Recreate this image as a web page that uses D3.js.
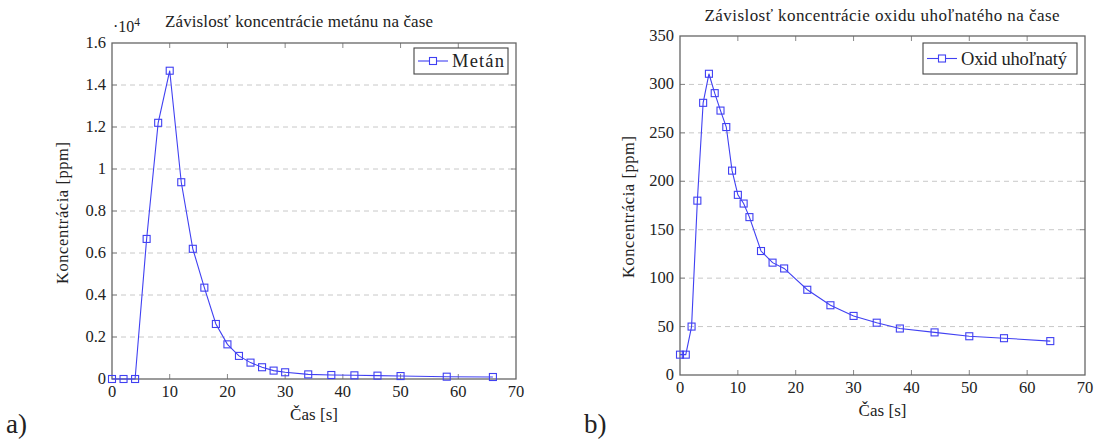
<!DOCTYPE html>
<html><head><meta charset="utf-8">
<script src="https://cdn.jsdelivr.net/npm/d3@7"></script>
<style>
body{margin:0;background:#fff;}
</style></head>
<body><svg id="c" width="1099" height="441" font-family="'Liberation Serif', 'DejaVu Serif', 'Times New Roman', Times, serif"></svg>
<script>
const methaneTime = [0,2,4,6,8,10,12,14,16,18,20,22,24,26,28,30,34,38,42,46,50,58,66];
const methaneConc = [0,0,0,6670,12200,14680,9370,6200,4350,2620,1650,1100,780,560,400,320,220,190,175,160,140,110,95];
const methaneYTicks = [0,2000,4000,6000,8000,10000,12000,14000,16000];
const methaneYLabels = ["0","0.2","0.4","0.6","0.8","1","1.2","1.4","1.6"];

const coTime = [0,1,2,3,4,5,6,7,8,9,10,11,12,14,16,18,22,26,30,34,38,44,50,56,64];
const coConc = [21,21,50,180,281,311,291,273,256,211,186,177,163,128,116,110,88,72,61,54,48,44,40,38,35];
const coYTicks = [0,50,100,150,200,250,300,350];
const coYLabels = ["0","50","100","150","200","250","300","350"];

const xTicks = [0,10,20,30,40,50,60,70];

const svg = d3.select("#c");
const blue = "#4040f2";
const txt = "#222";

function chart(o){
  const g = svg.append("g");
  const x = d3.scaleLinear().domain([0,70]).range([o.left,o.right]);
  const y = d3.scaleLinear().domain([0,o.ymax]).range([o.bottom,o.top]);
  g.selectAll(".grid").data(o.yTicks.slice(1,-1)).enter().append("line")
    .attr("x1",o.left).attr("x2",o.right).attr("y1",d=>y(d)).attr("y2",d=>y(d))
    .attr("stroke","#c8c8c8").attr("stroke-width",1).attr("stroke-dasharray","5,4");
  const tk = "#888";
  xTicks.slice(1,-1).forEach(t=>{
    g.append("line").attr("x1",x(t)).attr("x2",x(t)).attr("y1",o.bottom).attr("y2",o.bottom-5).attr("stroke",tk);
    g.append("line").attr("x1",x(t)).attr("x2",x(t)).attr("y1",o.top).attr("y2",o.top+5).attr("stroke",tk);
  });
  o.yTicks.slice(1,-1).forEach(t=>{
    g.append("line").attr("x1",o.left).attr("x2",o.left+5).attr("y1",y(t)).attr("y2",y(t)).attr("stroke",tk);
    g.append("line").attr("x1",o.right).attr("x2",o.right-5).attr("y1",y(t)).attr("y2",y(t)).attr("stroke",tk);
  });
  g.append("rect").attr("x",o.left).attr("y",o.top).attr("width",o.right-o.left).attr("height",o.bottom-o.top)
    .attr("fill","none").attr("stroke","#666").attr("stroke-width",1.3);
  g.selectAll(".xl").data(xTicks).enter().append("text").attr("fill",txt)
    .attr("x",d=>x(d)).attr("y",o.bottom+18).attr("text-anchor","middle").attr("font-size",16.5).text(d=>d);
  g.selectAll(".yl").data(o.yTicks).enter().append("text").attr("fill",txt)
    .attr("x",o.left-6).attr("y",(d)=>y(d)+5).attr("text-anchor","end").attr("font-size",16.5)
    .text((d,i)=>o.yLabels[i]);
  g.append("text").attr("fill",txt).attr("x",(o.left+o.right)/2).attr("y",o.bottom+41).attr("text-anchor","middle")
    .attr("font-size",17).attr("textLength",48).attr("lengthAdjust","spacing").text("Čas [s]");
  g.append("text").attr("fill",txt).attr("transform",`translate(${o.ylabX},${o.ylabY}) rotate(-90)`).attr("text-anchor","middle")
    .attr("font-size",16.5).attr("textLength",142).attr("lengthAdjust","spacing").text("Koncentrácia [ppm]");
  g.append("text").attr("fill",txt).attr("x",o.titleX).attr("y",o.titleY).attr("text-anchor","middle")
    .attr("font-size",17).attr("textLength",o.titleW).attr("lengthAdjust","spacing").text(o.title);
  const line = d3.line().x((d,i)=>x(o.xs[i])).y(d=>y(d));
  g.append("path").attr("d",line(o.ys)).attr("fill","none").attr("stroke",blue).attr("stroke-width",1.1);
  const s=7;
  g.selectAll(".m").data(o.ys).enter().append("rect")
    .attr("x",(d,i)=>x(o.xs[i])-s/2).attr("y",d=>y(d)-s/2).attr("width",s).attr("height",s)
    .attr("fill","none").attr("stroke",blue).attr("stroke-width",1.1);
  const L=o.legend;
  g.append("rect").attr("x",L.x).attr("y",L.y).attr("width",L.w).attr("height",L.h)
    .attr("fill","#fff").attr("stroke","#444").attr("stroke-width",1.1);
  const cy=L.y+L.h/2;
  g.append("line").attr("x1",L.x+4).attr("x2",L.x+34).attr("y1",cy).attr("y2",cy).attr("stroke",blue).attr("stroke-width",1.1);
  g.append("rect").attr("x",L.x+19-s/2).attr("y",cy-s/2).attr("width",s).attr("height",s)
    .attr("fill","#fff").attr("stroke",blue).attr("stroke-width",1.1);
  g.append("text").attr("fill",txt).attr("x",L.x+38).attr("y",cy+6).attr("font-size",18.5)
    .attr("textLength",L.tw).attr("lengthAdjust","spacing").text(L.text);
}

chart({left:112,right:516,top:43,bottom:379,ymax:16000,yTicks:methaneYTicks,yLabels:methaneYLabels,
  xs:methaneTime,ys:methaneConc,title:"Závislosť koncentrácie metánu na čase",titleX:299,titleY:27,titleW:268,
  ylabX:68,ylabY:213,legend:{x:414,y:48,w:94,h:26,text:"Metán",tw:52}});
svg.append("text").attr("fill",txt).attr("x",113).attr("y",32).attr("font-size",16).text("·10")
  .append("tspan").attr("dy",-6).attr("font-size",11.5).text("4");

chart({left:680,right:1085,top:36,bottom:375,ymax:350,yTicks:coYTicks,yLabels:coYLabels,
  xs:coTime,ys:coConc,title:"Závislosť koncentrácie oxidu uhoľnatého na čase",titleX:882,titleY:21,titleW:355,
  ylabX:634,ylabY:207,legend:{x:923,y:43,w:154,h:31,text:"Oxid uhoľnatý",tw:106}});

svg.append("text").attr("fill",txt).attr("x",6).attr("y",433).attr("font-size",27).text("a)");
svg.append("text").attr("fill",txt).attr("x",584).attr("y",433).attr("font-size",27).text("b)");
</script>
</body></html>
